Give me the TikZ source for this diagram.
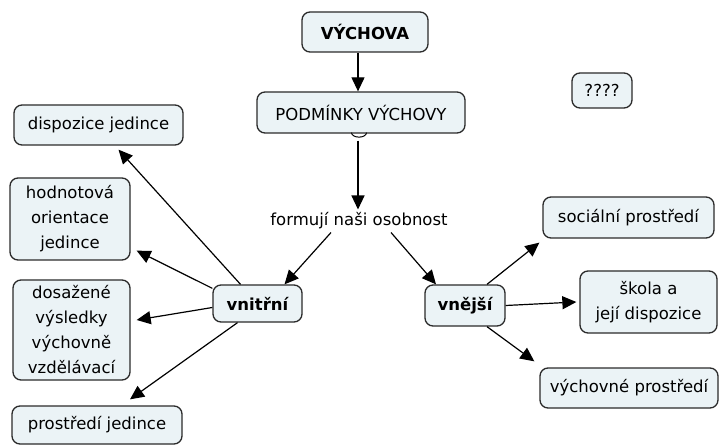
\documentclass[tikz,border=0pt]{standalone}
\usepackage{fontspec}
\setmainfont{DejaVu Sans}
\usetikzlibrary{arrows.meta}
\definecolor{boxfill}{HTML}{EBF3F6}
\definecolor{boxline}{HTML}{2B2B2B}
\tikzset{
  concept/.style={draw=boxline, fill=boxfill, line width=1.3pt, rounded corners=8pt,
    align=center, inner sep=2pt, font=\fontsize{16.5}{25}\selectfont},
  keyconcept/.style={concept, font=\fontsize{16.5}{25}\selectfont\bfseries},
  link/.style={line width=1.2pt, -{Triangle[length=14pt,width=13pt]}},
  plain/.style={align=center, inner sep=3pt, font=\fontsize{16.5}{25}\selectfont}
}
\begin{document}
\begin{tikzpicture}[x=1pt,y=-1pt]
\useasboundingbox (0,0) rectangle (720,446);
% top of the map
\node[keyconcept, minimum width=126pt, minimum height=40pt] (vychova) at (365,32) {VÝCHOVA};
\node[concept, minimum width=208pt, minimum height=41pt] (podminky) at (361,112.5) {PODMÍNKY VÝCHOVY};
\node[plain] (formuji) at (359,221) {formují naši osobnost};
\node[concept, minimum width=60pt, minimum height=35pt] (otazky) at (602,90.5) {????};
% inner factors
\node[keyconcept, minimum width=89pt, minimum height=37pt] (vnitrni) at (257.5,303.5) {vnitřní};
\node[concept, minimum width=169pt, minimum height=40pt] (dispozice) at (98.5,125) {dispozice jedince};
\node[concept, minimum width=120pt, minimum height=82pt] (hodnotova) at (70,219) {hodnotová\\orientace\\jedince};
\node[concept, minimum width=117pt, minimum height=100pt] (dosazene) at (71.5,330) {dosažené\\výsledky\\výchovně\\vzdělávací};
\node[concept, minimum width=170pt, minimum height=38pt] (prostredi) at (97,425) {prostředí jedince};
% outer factors
\node[keyconcept, minimum width=80pt, minimum height=41pt] (vnejsi) at (465,305.5) {vnější};
\node[concept, minimum width=171pt, minimum height=41pt] (socialni) at (628.5,217.5) {sociální prostředí};
\node[concept, minimum width=137pt, minimum height=62pt] (skola) at (648.5,302) {škola a\\její dispozice};
\node[concept, minimum width=178pt, minimum height=40pt] (vychovne) at (629,388) {výchovné prostředí};
% connectors
\draw[link] (vychova.south -| 358,0) -- (podminky.north -| 358,0);
% little connection cap under the box
\draw[line width=1pt] ([xshift=-9.5pt,yshift=1pt]podminky.south) arc[start angle=180, end angle=360, x radius=7.5pt, y radius=4.5pt];
\draw[link] ([xshift=-3pt,yshift=-7pt]podminky.south) -- (formuji.north -| 358,0);
\draw[link] ([xshift=-28pt]formuji.south) -- ([xshift=27pt]vnitrni.north);
\draw[link] ([xshift=32pt]formuji.south) -- ([xshift=-29pt]vnejsi.north);
\draw[link] ([xshift=-17pt]vnitrni.north) -- ([xshift=20pt,yshift=-4pt]dispozice.south);
\draw[link] ([yshift=-4pt]vnitrni.north west) -- ([xshift=6pt,yshift=10pt]hodnotova.south east);
\draw[link] ([yshift=-4pt]vnitrni.west) -- ([xshift=6pt,yshift=10pt]dosazene.east);
\draw[link] ([xshift=-20pt]vnitrni.south) -- ([xshift=33pt,yshift=6pt]prostredi.north);
\draw[link] ([xshift=22pt]vnejsi.north) -- ([xshift=-3pt,yshift=-4pt]socialni.south west);
\draw[link] (vnejsi.east) -- ([xshift=-3pt]skola.west);
\draw[link] ([xshift=22pt]vnejsi.south) -- ([xshift=-5pt,yshift=6pt]vychovne.north west);
\end{tikzpicture}
\end{document}
